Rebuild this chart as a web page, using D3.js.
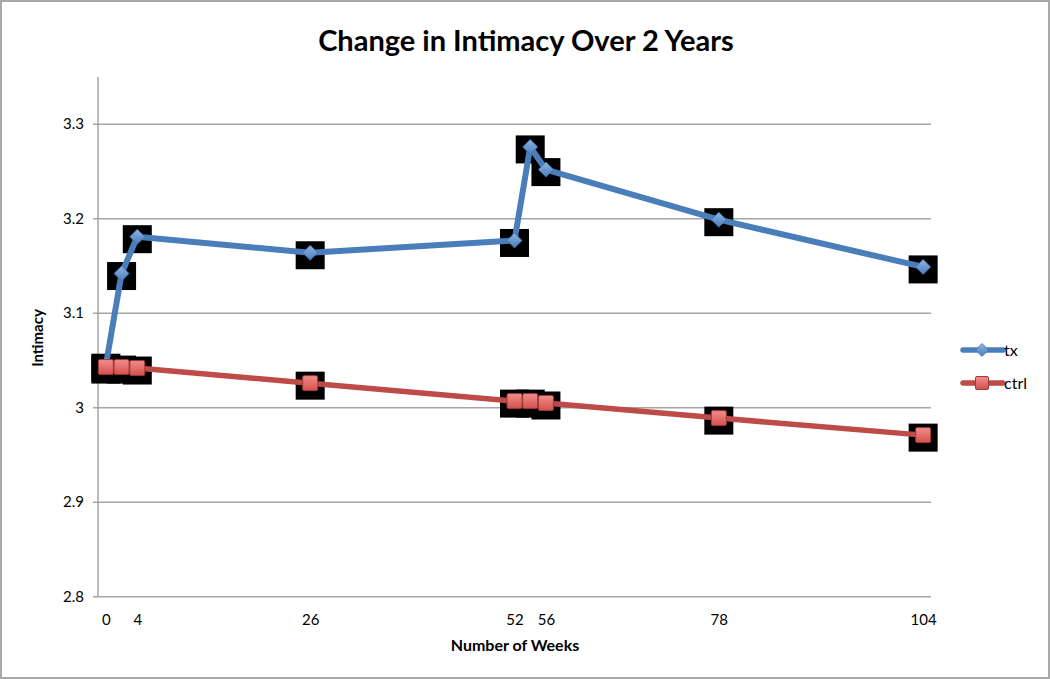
<!DOCTYPE html>
<html>
<head>
<meta charset="utf-8">
<script src="https://cdn.jsdelivr.net/npm/d3@7"></script>
<style>
  html, body { margin: 0; padding: 0; background: #fff; }
  svg text { font-family: Lato, "Open Sans", sans-serif; fill: #000; }
</style>
</head>
<body>
<svg id="chart" width="1050" height="679"></svg>
<script>
// ---- data ----
const weeks = [0, 2, 4, 26, 52, 54, 56, 78, 104];
const txValues = [3.045, 3.142, 3.181, 3.164, 3.177, 3.276, 3.252, 3.199, 3.149];
const ctrlValues = [3.043, 3.043, 3.042, 3.026, 3.007, 3.007, 3.005, 2.989, 2.971];
const xTickValues = [0, 4, 26, 52, 56, 78, 104];
const yTickValues = [2.8, 2.9, 3.0, 3.1, 3.2, 3.3];
const yTickLabels = ["2.8", "2.9", "3", "3.1", "3.2", "3.3"];
const seriesNames = ["tx", "ctrl"];
const title = "Change in Intimacy Over 2 Years";
const xTitle = "Number of Weeks";
const yTitle = "Intimacy";

const svg = d3.select("#chart");
const W = 1050, H = 679;

// outer border
svg.append("rect").attr("x", 1).attr("y", 1).attr("width", W - 2).attr("height", H - 2)
  .attr("fill", "#fff").attr("stroke", "#a8a8a8").attr("stroke-width", 2);

const x = d3.scaleLinear().domain([-1, 105]).range([98, 931]);
const y = d3.scaleLinear().domain([2.8, 3.35]).range([596.7, 77]);

// gridlines + y ticks
const gy = svg.append("g");
gy.selectAll("line.grid").data(yTickValues).join("line")
  .attr("x1", 93).attr("x2", 931)
  .attr("y1", d => y(d)).attr("y2", d => y(d))
  .attr("stroke", "#a6a6a6").attr("stroke-width", 1.5);
gy.selectAll("text").data(yTickValues).join("text")
  .attr("x", 84).attr("y", d => y(d) + 5)
  .attr("text-anchor", "end").attr("font-size", 15)
  .text((d, i) => yTickLabels[i]);
// y axis line
svg.append("line").attr("x1", 98).attr("x2", 98).attr("y1", y(3.35)).attr("y2", y(2.8))
  .attr("stroke", "#a6a6a6").attr("stroke-width", 1.5);

// x tick labels
const xAxis = d3.axisBottom(x).tickValues(xTickValues).tickSize(0).tickFormat(d3.format("d"));
const gx = svg.append("g").attr("transform", `translate(0,${y(2.8)})`).call(xAxis);
gx.select(".domain").remove();
gx.selectAll("text").attr("font-size", 15).attr("dy", 0).attr("y", 28)
  .style("font-family", "Lato, 'Open Sans', sans-serif").attr("fill", "#000");

// titles
svg.append("text").attr("x", 526).attr("y", 51).attr("text-anchor", "middle")
  .attr("font-size", 29).attr("font-weight", "bold").text(title);
svg.append("text").attr("x", 515).attr("y", 651).attr("text-anchor", "middle")
  .attr("font-size", 16).attr("font-weight", "bold").text(xTitle);
svg.append("text").attr("transform", "translate(43,338) rotate(-90)")
  .attr("text-anchor", "middle").attr("font-size", 15).attr("font-weight", "bold").text(yTitle);

const txData = weeks.map((w, i) => ({ w, v: txValues[i] }));
const ctrlData = weeks.map((w, i) => ({ w, v: ctrlValues[i] }));
const line = d3.line().x(d => x(d.w)).y(d => y(d.v));

const blue = "#4a7ebb", red = "#be4b48";

// black shadow squares
svg.append("g").selectAll("rect").data(txData.concat(ctrlData)).join("rect")
  .attr("x", d => x(d.w) - 14.5).attr("y", d => y(d.v) - 11.5)
  .attr("width", 29).attr("height", 28).attr("fill", "#000");

// tx series
svg.append("path").datum(txData).attr("d", line).attr("fill", "none")
  .attr("stroke", blue).attr("stroke-width", 6).attr("stroke-linejoin", "round");

const defs = svg.append("defs");
const gb = defs.append("linearGradient").attr("id", "gBlue").attr("x1", 0).attr("y1", 0).attr("x2", 0).attr("y2", 1);
gb.append("stop").attr("offset", 0).attr("stop-color", "#8fb4e3");
gb.append("stop").attr("offset", 1).attr("stop-color", "#4a7ebb");
const gr = defs.append("linearGradient").attr("id", "gRed").attr("x1", 0).attr("y1", 0).attr("x2", 0).attr("y2", 1);
gr.append("stop").attr("offset", 0).attr("stop-color", "#f28e8b");
gr.append("stop").attr("offset", 1).attr("stop-color", "#d4504c");

const diamond = s => `M0,${-s}L${s},0L0,${s}L${-s},0Z`;
svg.append("g").selectAll("path").data(txData).join("path")
  .attr("transform", d => `translate(${x(d.w)},${y(d.v)})`)
  .attr("d", diamond(7.5)).attr("fill", "url(#gBlue)").attr("stroke", "#3f72b0").attr("stroke-width", 0.8);

// ctrl series
svg.append("path").datum(ctrlData).attr("d", line).attr("fill", "none")
  .attr("stroke", red).attr("stroke-width", 5.5).attr("stroke-linejoin", "round");
svg.append("g").selectAll("rect").data(ctrlData).join("rect")
  .attr("x", d => x(d.w) - 7.5).attr("y", d => y(d.v) - 7.5)
  .attr("width", 15).attr("height", 15).attr("rx", 1.5)
  .attr("fill", "url(#gRed)").attr("stroke", "#9b3a37").attr("stroke-width", 1);

// legend
const legend = svg.append("g");
const legY = [350, 383];
const cols = [blue, red];
seriesNames.forEach((name, i) => {
  const g = legend.append("g").attr("transform", `translate(0,${legY[i]})`);
  g.append("line").attr("x1", 963).attr("x2", 1003).attr("y1", 0).attr("y2", 0)
    .attr("stroke", cols[i]).attr("stroke-width", 5.5).attr("stroke-linecap", "round");
  if (i === 0) {
    g.append("path").attr("transform", "translate(982,0)").attr("d", diamond(6.5))
      .attr("fill", "url(#gBlue)").attr("stroke", "#3f72b0").attr("stroke-width", 0.8);
  } else {
    g.append("rect").attr("x", 975.5).attr("y", -6.5).attr("width", 13).attr("height", 13).attr("rx", 1.5)
      .attr("fill", "url(#gRed)").attr("stroke", "#9b3a37").attr("stroke-width", 1);
  }
  g.append("text").attr("x", 1004).attr("y", 6).attr("font-size", 16).text(name);
});
</script>
</body>
</html>
